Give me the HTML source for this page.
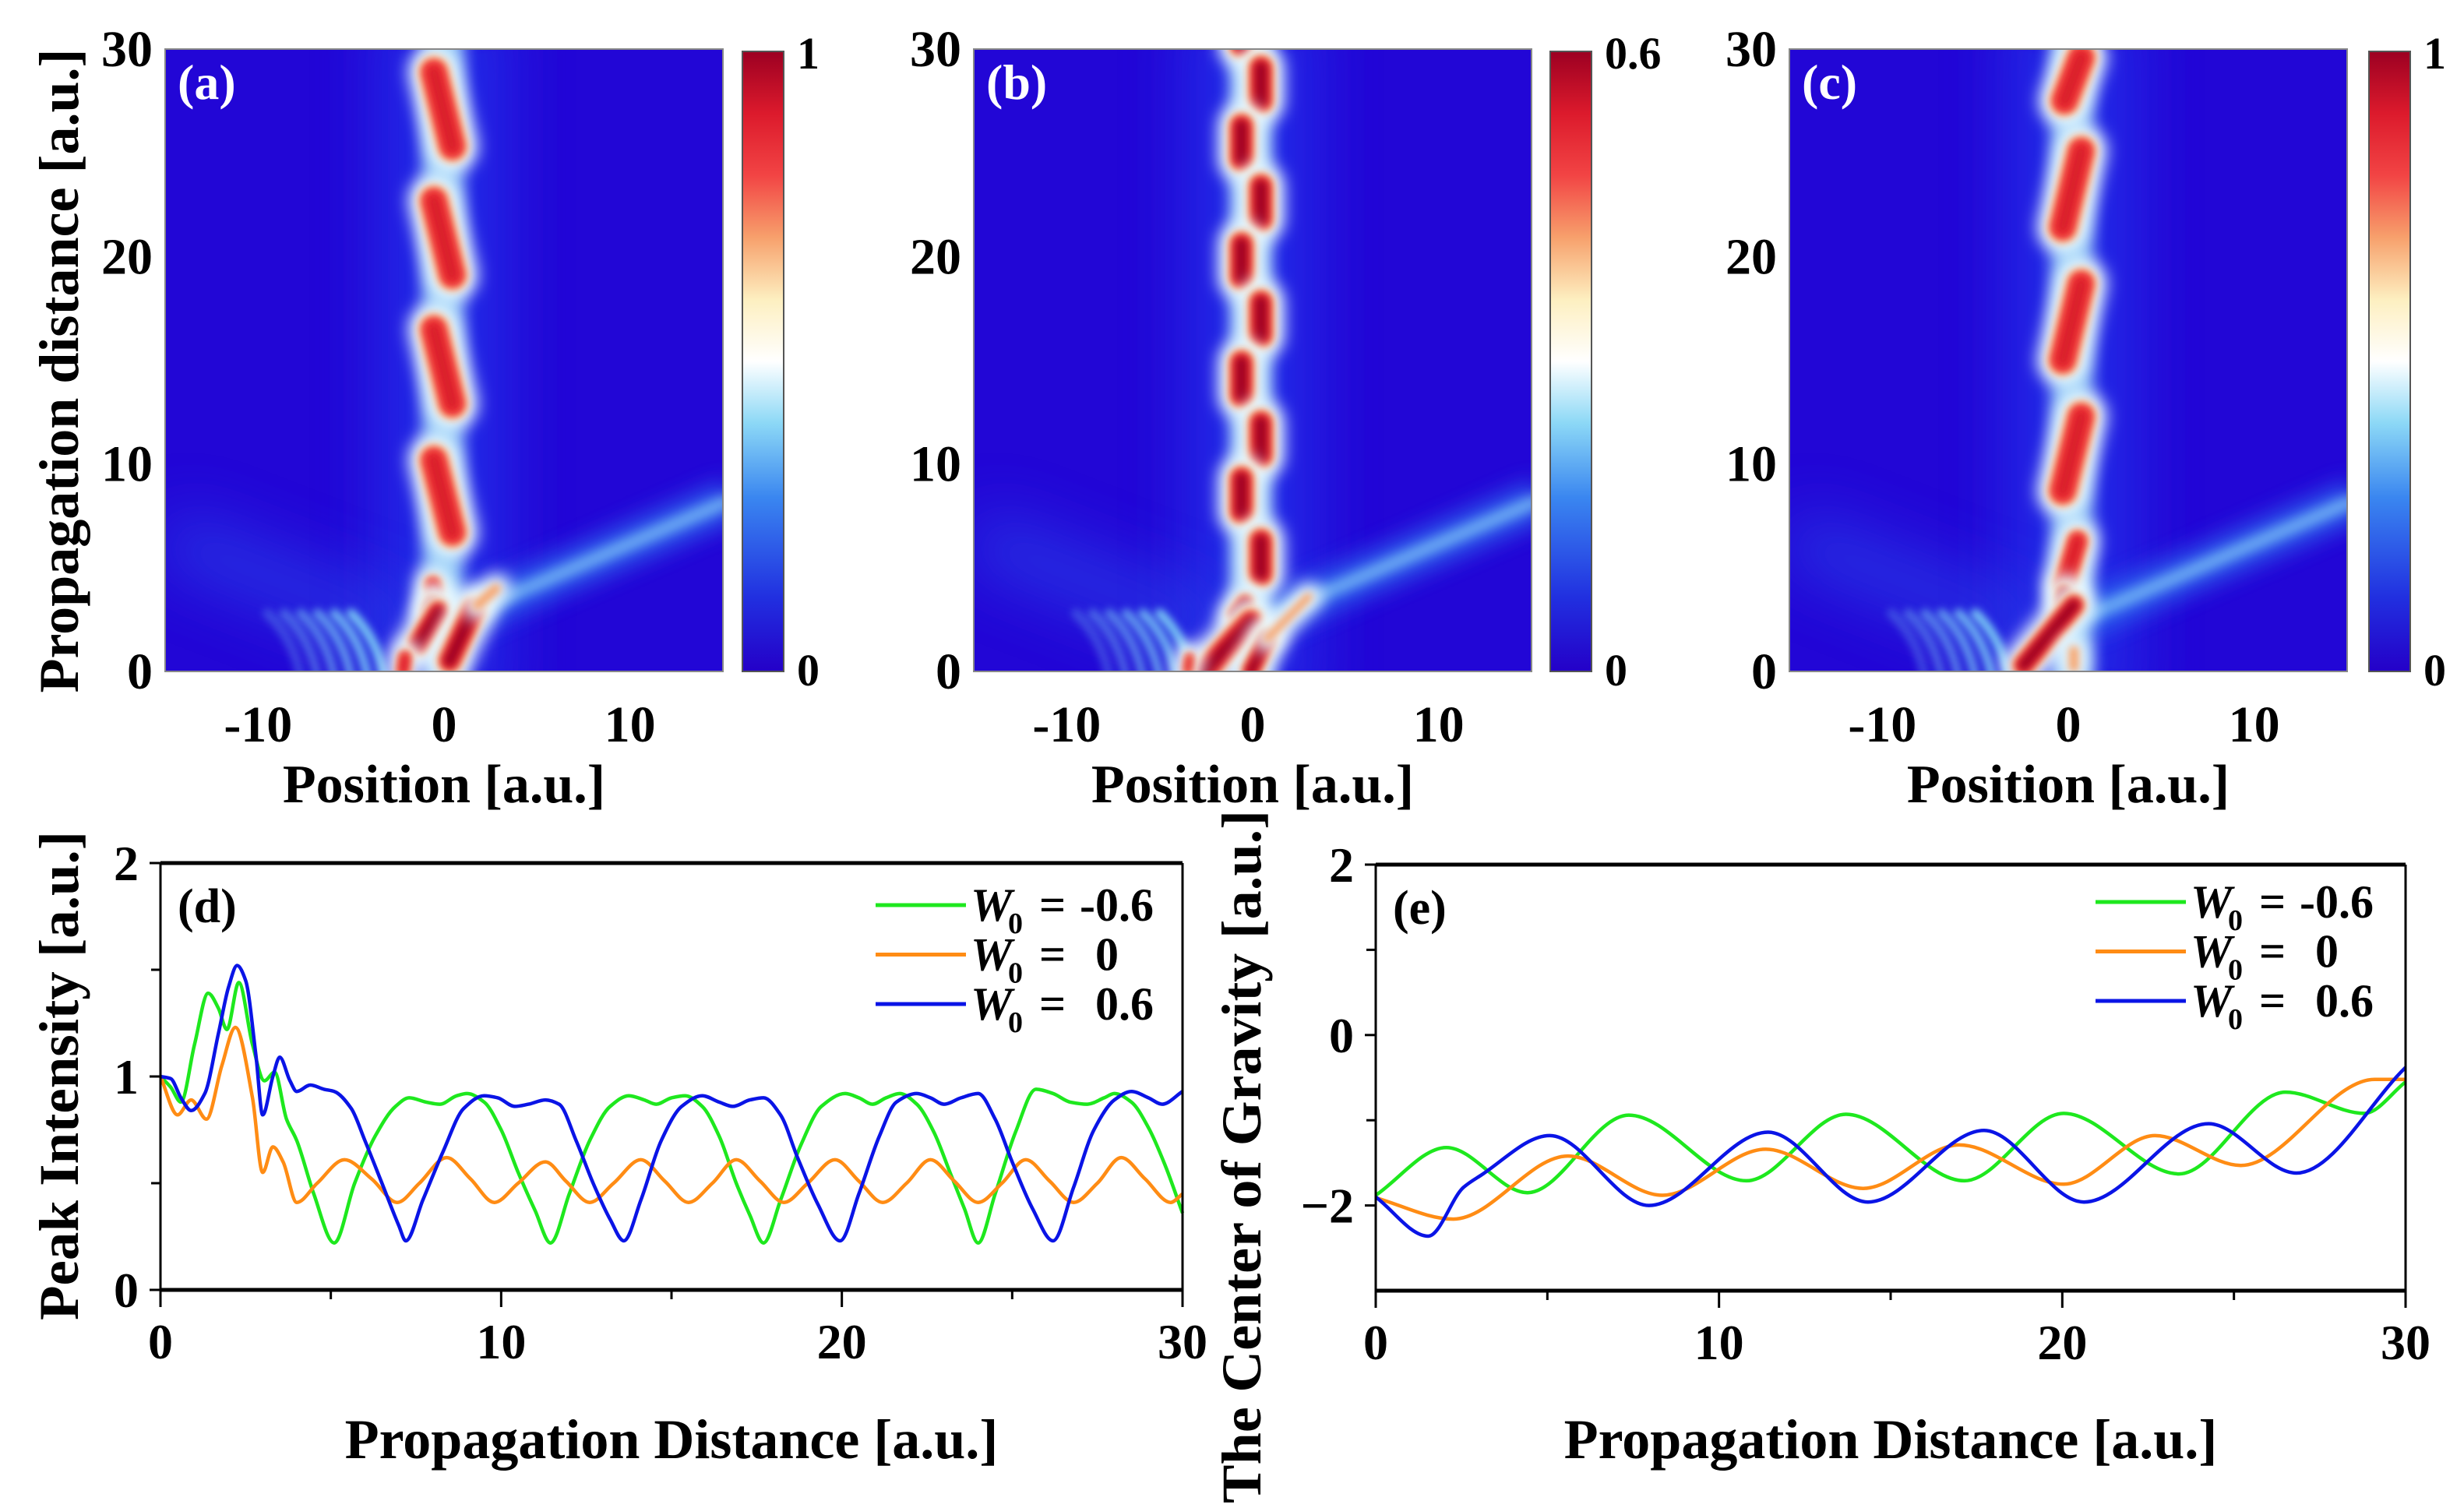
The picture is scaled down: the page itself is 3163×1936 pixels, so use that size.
<!DOCTYPE html>
<html><head><meta charset="utf-8"><style>
html,body{margin:0;padding:0;background:#fff;}
svg{display:block;font-family:"Liberation Serif","DejaVu Serif",serif;font-weight:bold;}
</style></head><body>
<svg id="fig" xmlns="http://www.w3.org/2000/svg" width="3163" height="1936" viewBox="0 0 3163 1936">
<defs>
<linearGradient id="cmap" x1="0" y1="1" x2="0" y2="0">
<stop offset="0" stop-color="#2400c8"/><stop offset="0.12" stop-color="#2130e0"/>
<stop offset="0.28" stop-color="#3a86f0"/><stop offset="0.4" stop-color="#8cd8f6"/>
<stop offset="0.5" stop-color="#ffffff"/><stop offset="0.6" stop-color="#fdefc0"/>
<stop offset="0.7" stop-color="#f7a06c"/><stop offset="0.8" stop-color="#f24444"/>
<stop offset="0.9" stop-color="#dc1a2c"/><stop offset="1" stop-color="#9c0022"/>
</linearGradient>
<filter id="b14" filterUnits="userSpaceOnUse" x="0" y="0" width="3163" height="1936"><feGaussianBlur stdDeviation="14"/></filter>
<filter id="b10" filterUnits="userSpaceOnUse" x="0" y="0" width="3163" height="1936"><feGaussianBlur stdDeviation="10"/></filter>
<filter id="b8" filterUnits="userSpaceOnUse" x="0" y="0" width="3163" height="1936"><feGaussianBlur stdDeviation="8"/></filter>
<filter id="b5" filterUnits="userSpaceOnUse" x="0" y="0" width="3163" height="1936"><feGaussianBlur stdDeviation="5"/></filter>
<filter id="b3" filterUnits="userSpaceOnUse" x="0" y="0" width="3163" height="1936"><feGaussianBlur stdDeviation="3"/></filter>
<filter id="b40" filterUnits="userSpaceOnUse" x="0" y="0" width="3163" height="1936"><feGaussianBlur stdDeviation="40"/></filter>
</defs>
</svg>
<script>
// ---------- heatmap data (position x, distance z, width, level) ----------
const aX1=[-0.55,-0.55,-0.55,-0.55,-0.6,-0.6,-0.3,0.3,1.8,-2.2];
const aZ1=[28.9,22.7,16.5,10.2,4.2,3.3,2.9,0.5,3.2,0.0];
const aX2=[0.45,0.45,0.45,0.45,-0.5,-0.8,-1.4,1.6,2.8,-2.1];
const aZ2=[25.3,19.1,12.9,6.7,3.7,2.9,1.3,3.0,4.0,0.7];
const aW=[1.75,1.75,1.75,1.75,1.0,0.9,1.3,1.4,0.6,0.8];
const aLv=[0.85,0.85,0.85,0.85,0.8,1,1,1,0.6,0.8];

const bX1=[-0.6,0.45,-0.6,0.45,-0.6,0.45,-0.6,0.45,-0.6,0.45,-0.4,-2.6,-0.1,0.8,-3.5];
const bZ1=[31.2,29.1,26.3,23.4,20.6,17.8,14.9,12.0,9.3,6.3,3.3,0.0,0.0,1.6,0.0];
const bX2=[-0.6,0.45,-0.6,0.45,-0.6,0.45,-0.6,0.45,-0.6,0.45,-0.9,-0.1,0.8,3.0,-3.4];
const bZ2=[30.2,27.5,24.7,21.8,19.0,16.2,13.3,10.4,7.7,4.7,2.7,2.4,1.6,3.6,0.7];
const bW=[1.5,1.5,1.5,1.5,1.5,1.5,1.5,1.5,1.5,1.5,1.0,1.5,1.1,0.5,0.5];
const bLv=[0.9,0.95,0.95,0.95,0.95,0.95,0.95,0.95,0.95,0.95,1,1,1,0.6,0.7];

const cX1=[0.7,0.7,0.7,0.7,0.5,-0.2,0.3,0.3];
const cZ1=[29.6,25.1,18.7,12.3,6.3,3.8,3.2,0.2];
const cX2=[-0.2,-0.3,-0.3,-0.3,-0.2,-0.3,-2.4,0.3];
const cZ2=[27.5,21.4,15.0,8.7,4.2,3.3,0.3,1.0];
const cW=[1.75,1.75,1.75,1.75,1.3,0.9,1.3,0.6];
const cLv=[0.85,0.85,0.85,0.85,0.85,1,1,0.6];

const fringeX=[-3.2,-4.1,-5.0,-5.9,-6.8,-7.7];
const xTicksHeat=[-10,0,10];
const zTicksHeat=[0,10,20,30];

// ---------- line chart data ----------
const gX=[0,0.3,0.6,1.0,1.4,1.7,1.95,2.3,2.7,3.05,3.35,3.7,4.0,4.5,5.1,5.7,6.3,6.9,7.3,7.8,8.2,8.7,9.0,9.5,10.0,10.5,11.0,11.45,12.0,12.6,13.2,13.75,14.2,14.55,15.0,15.4,15.9,16.4,16.9,17.3,17.7,18.2,18.8,19.4,20.1,20.5,20.9,21.3,21.7,22.2,22.7,23.2,23.6,24.0,24.5,25.1,25.7,26.2,26.7,27.2,27.7,28.0,28.5,29.0,29.5,30];
const gY=[1.0,0.95,0.88,1.15,1.39,1.32,1.22,1.44,1.15,0.98,1.02,0.8,0.7,0.45,0.22,0.5,0.72,0.86,0.9,0.88,0.87,0.91,0.92,0.88,0.75,0.55,0.37,0.22,0.45,0.7,0.86,0.91,0.89,0.87,0.9,0.91,0.86,0.72,0.5,0.35,0.22,0.42,0.68,0.86,0.92,0.9,0.87,0.9,0.92,0.87,0.74,0.54,0.38,0.22,0.45,0.74,0.94,0.92,0.88,0.87,0.9,0.92,0.88,0.76,0.58,0.36];
const oX=[0,0.5,0.9,1.35,1.8,2.2,2.7,3.0,3.3,3.6,4.0,4.6,5.4,6.2,6.95,7.6,8.4,9.1,9.8,10.5,11.3,11.9,12.6,13.3,14.1,14.8,15.5,16.2,16.9,17.6,18.3,19.0,19.8,20.5,21.2,21.9,22.6,23.3,24.0,24.7,25.4,26.1,26.8,27.5,28.2,28.9,29.65,30];
const oY=[1.0,0.82,0.89,0.8,1.05,1.23,0.9,0.55,0.67,0.6,0.41,0.5,0.61,0.52,0.41,0.5,0.62,0.52,0.41,0.5,0.6,0.51,0.41,0.5,0.61,0.51,0.41,0.5,0.61,0.51,0.41,0.5,0.61,0.51,0.41,0.5,0.61,0.51,0.41,0.5,0.61,0.51,0.41,0.5,0.62,0.52,0.41,0.45];
const uX=[0,0.3,0.6,0.9,1.3,1.7,2.0,2.25,2.5,2.8,3.0,3.3,3.5,3.8,4.0,4.4,4.8,5.1,5.6,6.0,6.5,7.0,7.2,7.7,8.3,8.9,9.5,9.9,10.4,10.8,11.3,11.7,12.2,12.7,13.2,13.6,14.1,14.7,15.3,15.9,16.4,16.8,17.3,17.7,18.2,18.7,19.3,19.95,20.5,21.1,21.6,22.2,22.6,23.0,23.5,24.0,24.5,25.0,25.6,26.2,26.8,27.4,28.0,28.5,29.0,29.4,30];
const uY=[1.0,0.99,0.9,0.84,0.92,1.2,1.42,1.52,1.45,1.1,0.82,1.0,1.09,0.98,0.93,0.96,0.94,0.93,0.85,0.7,0.5,0.3,0.23,0.42,0.65,0.85,0.91,0.9,0.86,0.87,0.89,0.87,0.7,0.5,0.33,0.23,0.42,0.7,0.86,0.91,0.88,0.86,0.89,0.9,0.82,0.62,0.4,0.23,0.45,0.72,0.88,0.92,0.9,0.87,0.9,0.92,0.8,0.6,0.38,0.23,0.48,0.75,0.89,0.93,0.9,0.87,0.93];

const egX=[0,2.06,4.42,7.37,10.8,13.7,17.15,20.04,23.4,26.5,28.8,30];
const egY=[-1.88,-1.32,-1.85,-0.94,-1.71,-0.93,-1.71,-0.92,-1.63,-0.67,-0.92,-0.55];
const eoX=[0,2.26,5.6,8.35,11.36,14.2,17.0,20.04,22.7,25.2,29.1,30];
const eoY=[-1.91,-2.16,-1.42,-1.88,-1.34,-1.8,-1.29,-1.75,-1.18,-1.53,-0.52,-0.52];
const ebX=[0,1.53,2.55,3.05,5.07,7.96,11.43,14.34,17.72,20.63,24.26,26.82,30];
const ebY=[-1.9,-2.36,-1.79,-1.65,-1.18,-2.0,-1.14,-1.96,-1.12,-1.96,-1.04,-1.62,-0.38];

const legendLabels=["-0.6","0","0.6"];
const seriesColors=["#1ee81e","#ff8c14","#0a14e6"];

const NS="http://www.w3.org/2000/svg";
const svg=document.getElementById('fig');
function el(tag,attrs,parent,text){const e=document.createElementNS(NS,tag);for(const k in attrs)e.setAttribute(k,attrs[k]);if(text!==undefined)e.textContent=text;(parent||svg).appendChild(e);return e;}

// ---------- heatmaps ----------
const panels=[
 {id:'a',left:212,cb:953,max:'1',X1:aX1,Z1:aZ1,X2:aX2,Z2:aZ2,W:aW,L:aLv,chain:-0.05},
 {id:'b',left:1250,cb:1990,max:'0.6',X1:bX1,Z1:bZ1,X2:bX2,Z2:bZ2,W:bW,L:bLv,chain:-0.1},
 {id:'c',left:2297,cb:3041,max:'1',X1:cX1,Z1:cZ1,X2:cX2,Z2:cZ2,W:cW,L:cLv,chain:0.2}
];
const HT=63,HB=862,pw=716;
panels.forEach((p,pi)=>{
  const sx=pw/30, sz=(HB-HT)/30;
  const X=v=>p.left+(v+15)*sx, Z=v=>HB-v*sz;
  const cp=el('clipPath',{id:'clip'+p.id},svg.querySelector('defs'));
  el('rect',{x:p.left,y:HT,width:pw,height:HB-HT},cp);
  const g=el('g',{'clip-path':'url(#clip'+p.id+')'});
  
  
  el('rect',{x:p.left,y:HT,width:pw,height:HB-HT,fill:'#2206d6'},g);
  el('line',{x1:X(p.chain),y1:Z(-2),x2:X(p.chain),y2:Z(32),stroke:'#2238ee','stroke-width':7*sx,opacity:0.7,filter:'url(#b40)'},g);
  el('line',{x1:X(-2),y1:Z(2),x2:X(-15),y2:Z(6.5),stroke:'#2a55ee','stroke-width':3*sx,opacity:0.55,filter:'url(#b40)'},g);
  el('line',{x1:X(0.8),y1:Z(2.6),x2:X(15.5),y2:Z(8.3),stroke:'#2e6af0','stroke-width':2.2*sx,opacity:0.8,filter:'url(#b14)'},g);
  el('line',{x1:X(0.8),y1:Z(2.6),x2:X(15.5),y2:Z(8.3),stroke:'#8fdcf8','stroke-width':0.6*sx,opacity:0.8,filter:'url(#b8)'},g);
  fringeX.forEach((fx,i)=>{
    const f=el('path',{d:'M'+X(fx)+','+Z(-0.3)+' Q'+X(fx-0.4)+','+Z(1.6)+' '+X(fx-1.8)+','+Z(2.8),fill:'none',stroke:'#7fd3f6','stroke-width':0.5*sx,opacity:0.95-i*0.13,filter:'url(#b5)','stroke-linecap':'round'},g);
    
    
  });
  el('line',{x1:X(p.chain),y1:Z(-1),x2:X(p.chain),y2:Z(31),stroke:'#a8e8fb','stroke-width':2.2*sx,opacity:0.85,filter:'url(#b10)'},g);
  for(let i=0;i<p.X1.length;i++){
    const bg=el('g',{},g);
    
    
    const a={x1:X(p.X1[i]),y1:Z(p.Z1[i]),x2:X(p.X2[i]),y2:Z(p.Z2[i]),'stroke-linecap':'round'};
    const w=p.W[i]*sx;
    el('line',Object.assign({stroke:'#eaf9ff','stroke-width':w+1.0*sx,filter:'url(#b10)'},a),bg);
    if(p.L[i]<=0.65){
      el('line',Object.assign({stroke:'#f7a56e','stroke-width':w*0.9,filter:'url(#b5)'},a),bg);
    } else {
      el('line',Object.assign({stroke:'#fbd09a','stroke-width':w*1.0,filter:'url(#b5)'},a),bg);
      el('line',Object.assign({stroke:'#f03434','stroke-width':w*0.8,filter:'url(#b5)'},a),bg);
      if(p.L[i]>=0.9) el('line',Object.assign({stroke:'#a00020','stroke-width':w*0.45,filter:'url(#b5)'},a),bg);
      else el('line',Object.assign({stroke:'#d81c2c','stroke-width':w*0.35,filter:'url(#b5)'},a),bg);
    }
  }
  el('rect',{x:p.left,y:HT,width:pw,height:HB-HT,fill:'none',stroke:'#888','stroke-width':2});
  const lb=el('text',{x:p.left+16,y:HT+64,fill:'#fff','font-size':64},svg,'('+p.id+')');
  
  
  zTicksHeat.forEach(t=>{
    const tt=el('text',{x:p.left-16,y:Z(t)+22,'text-anchor':'end','font-size':66},svg,String(t));
    
    
  });
  xTicksHeat.forEach(t=>{
    const tt=el('text',{x:X(t),y:952,'text-anchor':'middle','font-size':66},svg,String(t));
    
    
  });
  const xt=el('text',{x:X(0),y:1030,'text-anchor':'middle','font-size':70},svg,'Position [a.u.]');
  
  
  const cb=el('rect',{x:p.cb,y:66,width:53,height:796,fill:'url(#cmap)',stroke:'#555','stroke-width':2});
  
  
  const c1=el('text',{x:p.cb+70,y:88,'font-size':58},svg,p.max);
  
  
  const c0=el('text',{x:p.cb+70,y:880,'font-size':58},svg,'0');
  
  
});
const ya=el('text',{x:0,y:0,'text-anchor':'middle','font-size':72,transform:'translate(100,476) rotate(-90)',textLength:827,lengthAdjust:'spacingAndGlyphs'},svg,'Propagation distance [a.u.]');



// ---------- line charts ----------
function monoPath(xs,ys,X,Y){
  const n=xs.length,px=xs.map(X),py=ys.map(Y);
  const d=[],m=new Array(n);
  for(let i=0;i<n-1;i++)d.push((py[i+1]-py[i])/(px[i+1]-px[i]));
  m[0]=d[0];m[n-1]=d[n-2];
  for(let i=1;i<n-1;i++){ if(d[i-1]*d[i]<=0)m[i]=0; else {const w1=2*(px[i+1]-px[i])+(px[i]-px[i-1]),w2=(px[i+1]-px[i])+2*(px[i]-px[i-1]);m[i]=(w1+w2)/(w1/d[i-1]+w2/d[i]);} }
  let s='M'+px[0].toFixed(1)+','+py[0].toFixed(1);
  for(let i=0;i<n-1;i++){const h=(px[i+1]-px[i])/3;
    s+=' C'+(px[i]+h).toFixed(1)+','+(py[i]+m[i]*h).toFixed(1)+' '+(px[i+1]-h).toFixed(1)+','+(py[i+1]-m[i+1]*h).toFixed(1)+' '+px[i+1].toFixed(1)+','+py[i+1].toFixed(1);}
  return s;
}
const charts=[
 {id:'d',L:206,R:1518,T:1108,B:1656,ymin:0,ymax:2,yt:[0,1,2],ym:[0.5,1.5],ylab:['0','1','2'],
  series:[[gX,gY],[oX,oY],[uX,uY]],title:'Peak Intensity [a.u.]',tx:100,tlen:628,tcy:1381,lx:1124,ly:1162},
 {id:'e',L:1766,R:3088,T:1110,B:1657,ymin:-3,ymax:2,yt:[-2,0,2],ym:[-1,1],ylab:['\u22122','0','2'],
  series:[[egX,egY],[eoX,eoY],[ebX,ebY]],title:'The Center of Gravity [a.u.]',tx:1618,tlen:890,tcy:1485,lx:2690,ly:1158}
];
const xTicksLine=[0,10,20,30], xMinorLine=[5,15,25];
charts.forEach(c=>{
  const X=v=>c.L+(v/30)*(c.R-c.L), Y=v=>c.B-(v-c.ymin)/(c.ymax-c.ymin)*(c.B-c.T);
  c.series.forEach((s,i)=>{
    const p=el('path',{d:monoPath(s[0],s[1],X,Y),fill:'none',stroke:seriesColors[i],'stroke-width':4.5,'stroke-linejoin':'round'});
    
    
  });
  el('line',{x1:c.L,y1:c.T,x2:c.R,y2:c.T,stroke:'#000','stroke-width':5});
  el('line',{x1:c.L,y1:c.B,x2:c.R,y2:c.B,stroke:'#000','stroke-width':5});
  el('line',{x1:c.L,y1:c.T,x2:c.L,y2:c.B,stroke:'#000','stroke-width':3});
  el('line',{x1:c.R,y1:c.T,x2:c.R,y2:c.B,stroke:'#000','stroke-width':3});
  xTicksLine.forEach(t=>{
    el('line',{x1:X(t),y1:c.B,x2:X(t),y2:c.B+22,stroke:'#000','stroke-width':3});
    const tt=el('text',{x:X(t),y:c.B+88,'text-anchor':'middle','font-size':64},svg,String(t));
    
    
  });
  xMinorLine.forEach(t=>el('line',{x1:X(t),y1:c.B,x2:X(t),y2:c.B+12,stroke:'#000','stroke-width':3}));
  c.yt.forEach((t,i)=>{
    el('line',{x1:c.L-14,y1:Y(t),x2:c.L,y2:Y(t),stroke:'#000','stroke-width':3});
    const tt=el('text',{x:c.L-28,y:Y(t)+22,'text-anchor':'end','font-size':64},svg,c.ylab[i]);
    
    
  });
  c.ym.forEach(t=>el('line',{x1:c.L-12,y1:Y(t),x2:c.L,y2:Y(t),stroke:'#000','stroke-width':3}));
  const pl=el('text',{x:c.L+22,y:c.T+76,'font-size':62},svg,'('+c.id+')');
  
  
  const xt=el('text',{x:(c.L+c.R)/2,y:1872,'text-anchor':'middle','font-size':72},svg,'Propagation Distance [a.u.]');
  
  
  const yt=el('text',{x:0,y:0,'text-anchor':'middle','font-size':72,transform:'translate('+c.tx+','+c.tcy+') rotate(-90)',textLength:c.tlen,lengthAdjust:'spacingAndGlyphs'},svg,c.title);
  
  
  legendLabels.forEach((lab,i)=>{
    const y=c.ly+i*63.5;
    const lg=el('g',{});
    
    
    el('line',{x1:c.lx,y1:y,x2:c.lx+116,y2:y,stroke:seriesColors[i],'stroke-width':5},lg);
    el('text',{x:c.lx+122,y:y+20,'font-size':60,'font-style':'italic'},lg,'W');
    el('text',{x:c.lx+170,y:y+36,'font-size':38},lg,'0');
    el('text',{x:c.lx+210,y:y+20,'font-size':60},lg,'=');
    el('text',{x:c.lx+(i===0?262:282),y:y+20,'font-size':60},lg,lab);
  });
});
</script>
</body></html>
